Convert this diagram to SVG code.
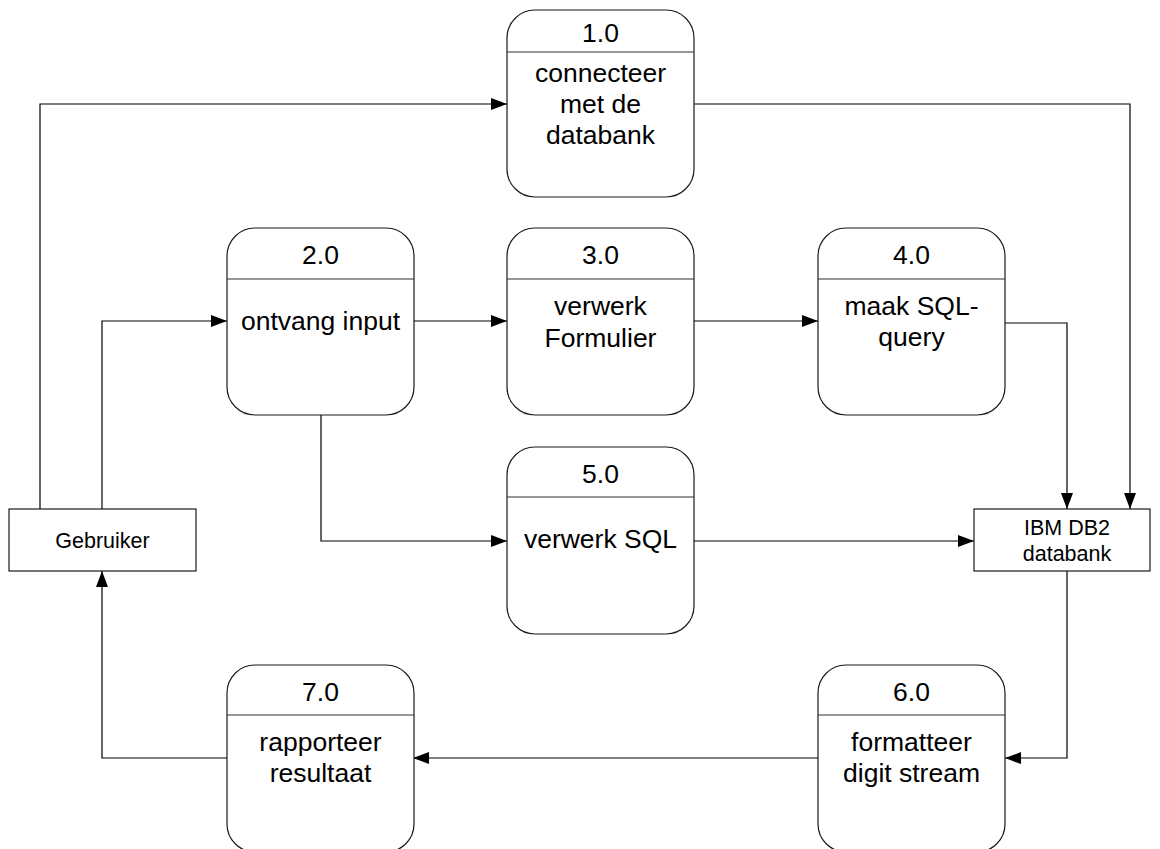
<svg xmlns="http://www.w3.org/2000/svg" width="1160" height="849" viewBox="0 0 1160 849">
  <style>
    .proc { fill: #ffffff; stroke: #1a1a1a; stroke-width: 1.2; }
    .div { stroke: #333333; stroke-width: 1.2; }
    .ent { fill: #ffffff; stroke: #1a1a1a; stroke-width: 1.2; }
    .t { font-family: "Liberation Sans", Arial, sans-serif; font-size: 26.5px; fill: #000; text-anchor: middle; }
    .te { font-family: "Liberation Sans", Arial, sans-serif; font-size: 21.5px; fill: #000; text-anchor: middle; }
    .flow { fill: none; stroke: #000; stroke-width: 1.2; marker-end: url(#arr); }
  </style>
  <defs>
    <marker id="arr" viewBox="0 0 16 12" refX="16" refY="6" markerWidth="16" markerHeight="12" markerUnits="userSpaceOnUse" orient="auto">
      <path d="M0,0 L16,6 L0,12 Z" fill="#000"/>
    </marker>
  </defs>

  <!-- data flows -->
  <g id="connectors">
    <path class="flow" d="M40,509 V104 H507"/>
    <path class="flow" d="M694,104 H1130 V509"/>
    <path class="flow" d="M102,509 V321 H227"/>
    <path class="flow" d="M414,321 H507"/>
    <path class="flow" d="M694,321 H818"/>
    <path class="flow" d="M1004,323 H1067 V509"/>
    <path class="flow" d="M321,415 V541 H507"/>
    <path class="flow" d="M694,541 H974"/>
    <path class="flow" d="M1067,571 V758 H1005"/>
    <path class="flow" d="M818,758 H413"/>
    <path class="flow" d="M227,758 H102 V571"/>
  </g>

  <!-- processes -->
  <g id="p1">
    <rect class="proc" x="507" y="10" width="187" height="187" rx="28"/>
    <line class="div" x1="507" y1="52" x2="694" y2="52"/>
    <text class="t" x="600.5" y="42">1.0</text>
    <text class="t" x="600.5" y="82">connecteer</text>
    <text class="t" x="600.5" y="113">met de</text>
    <text class="t" x="600.5" y="144">databank</text>
  </g>
  <g id="p2">
    <rect class="proc" x="227" y="228" width="187" height="187" rx="28"/>
    <line class="div" x1="227" y1="279" x2="414" y2="279"/>
    <text class="t" x="320.5" y="264">2.0</text>
    <text class="t" x="320.5" y="330">ontvang input</text>
  </g>
  <g id="p3">
    <rect class="proc" x="507" y="228" width="187" height="187" rx="28"/>
    <line class="div" x1="507" y1="279" x2="694" y2="279"/>
    <text class="t" x="600.5" y="264">3.0</text>
    <text class="t" x="600.5" y="315">verwerk</text>
    <text class="t" x="600.5" y="347">Formulier</text>
  </g>
  <g id="p4">
    <rect class="proc" x="818" y="228" width="187" height="187" rx="28"/>
    <line class="div" x1="818" y1="279" x2="1005" y2="279"/>
    <text class="t" x="911.5" y="264">4.0</text>
    <text class="t" x="911.5" y="315">maak SQL-</text>
    <text class="t" x="911.5" y="346">query</text>
  </g>
  <g id="p5">
    <rect class="proc" x="507" y="447" width="187" height="187" rx="28"/>
    <line class="div" x1="507" y1="497" x2="694" y2="497"/>
    <text class="t" x="600.5" y="483">5.0</text>
    <text class="t" x="600.5" y="548">verwerk SQL</text>
  </g>
  <g id="p6">
    <rect class="proc" x="818" y="665" width="187" height="187" rx="28"/>
    <line class="div" x1="818" y1="715" x2="1005" y2="715"/>
    <text class="t" x="911.5" y="701">6.0</text>
    <text class="t" x="911.5" y="751">formatteer</text>
    <text class="t" x="911.5" y="782">digit stream</text>
  </g>
  <g id="p7">
    <rect class="proc" x="227" y="665" width="187" height="187" rx="28"/>
    <line class="div" x1="227" y1="715" x2="414" y2="715"/>
    <text class="t" x="320.5" y="701">7.0</text>
    <text class="t" x="320.5" y="751">rapporteer</text>
    <text class="t" x="320.5" y="782">resultaat</text>
  </g>

  <!-- external entities -->
  <g id="gebruiker">
    <rect class="ent" x="9" y="509" width="187" height="62"/>
    <text class="te" x="102.5" y="548">Gebruiker</text>
  </g>
  <g id="db2">
    <rect class="ent" x="974" y="509" width="176" height="62"/>
    <text class="te" x="1067" y="535">IBM DB2</text>
    <text class="te" x="1067" y="561">databank</text>
  </g>
</svg>
